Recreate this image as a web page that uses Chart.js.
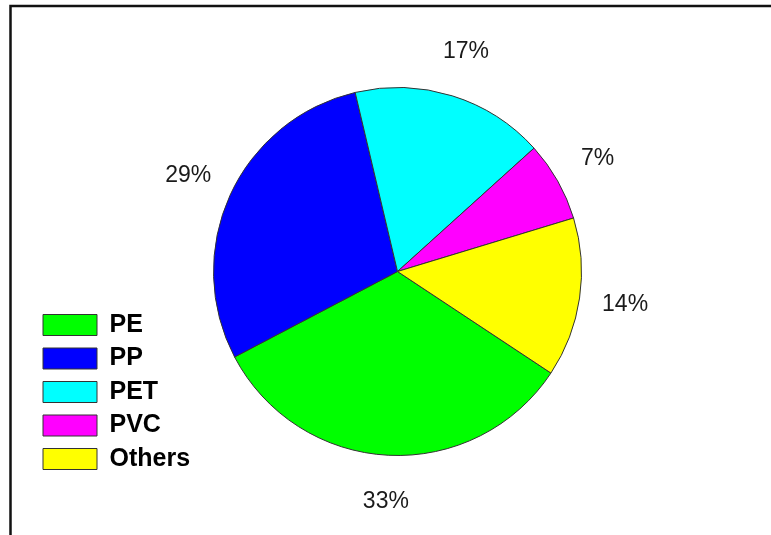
<!DOCTYPE html>
<html>
<head>
<title>Plastic types</title>
<script src="https://cdn.jsdelivr.net/npm/chart.js@4/dist/chart.umd.min.js"></script>
<style>
body { margin: 0; background: #fff; }
#wrap { width: 771px; height: 535px; position: relative; }
</style>
</head>
<body>
<div id="wrap">
<canvas id="pie1"></canvas>
</div>

<script>
var categories = ['PE', 'PP', 'PET', 'PVC', 'Others'];
var shares = [33, 29, 17, 7, 14];   // percent
var sliceColors = ['#00ff00', '#0000ff', '#00ffff', '#ff00ff', '#ffff00'];

// thin frame on the left and top edges
var framePlugin = {
	id: 'frame',
	beforeDraw: function (chart) {
		var c = chart.ctx;
		c.save();
		c.strokeStyle = '#111';
		c.lineWidth = 2.5;
		c.beginPath();
		c.moveTo(10.5, 600);
		c.lineTo(10.5, 6);
		c.lineTo(800, 6);
		c.stroke();
		c.restore();
	}
};

// percent labels outside each slice
var pctPlugin = {
	id: 'pctLabels',
	afterDatasetsDraw: function (chart) {
		var c = chart.ctx;
		var arcs = chart.getDatasetMeta(0).data;
		c.save();
		c.font = '23px "Liberation Sans", Arial, sans-serif';
		c.fillStyle = '#1a1a1a';
		c.textAlign = 'center';
		c.textBaseline = 'middle';
		arcs.forEach(function (arc, i) {
			var p = arc.getProps(['x', 'y', 'startAngle', 'endAngle', 'outerRadius'], true);
			var mid = (p.startAngle + p.endAngle) / 2;
			var r = p.outerRadius + 46;
			c.fillText(shares[i] + '%', p.x + Math.cos(mid) * r, p.y + Math.sin(mid) * r);
		});
		c.restore();
	}
};

var ctx = document.getElementById('pie1').getContext('2d');
var chart = new Chart(ctx, {
	type: 'pie',
	data: {
		labels: categories,
		datasets: [{
			data: shares,
			backgroundColor: sliceColors,
			borderColor: '#333',
			borderWidth: 1
		}]
	},
	options: {
		responsive: true,
		maintainAspectRatio: false,
		animation: false,
		rotation: 123.5,
		radius: 184,
		layout: {
			padding: { left: 34.5, right: 10.5, top: 31.5, bottom: 23.5 }
		},
		plugins: {
			tooltip: { enabled: false },
			legend: {
				position: 'chartArea',
				align: 'end',
				labels: {
					boxWidth: 54,
					boxHeight: 21,
					padding: 8.5,
					color: '#000',
					font: { family: '"Liberation Sans", Arial, sans-serif', size: 25, weight: 'bold' }
				}
			}
		}
	},
	plugins: [framePlugin, pctPlugin]
});
</script>
</body>
</html>
